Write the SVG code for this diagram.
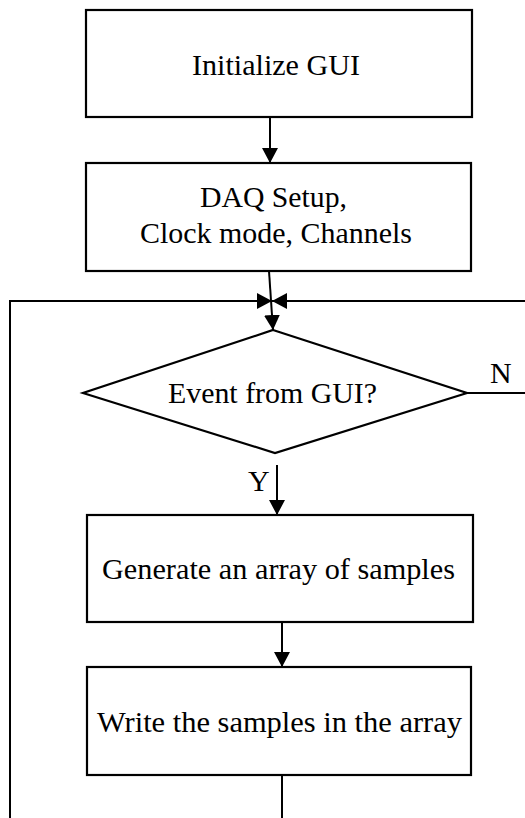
<svg xmlns="http://www.w3.org/2000/svg" width="525" height="818" viewBox="0 0 525 818">
  <style>
    .box { fill: #fff; stroke: #000; stroke-width: 2.2; }
    .wire { fill: none; stroke: #000; stroke-width: 2; }
    .label { font-family: "Liberation Serif", "Times New Roman", serif; font-size: 30px; fill: #000; }
  </style>
  <defs>
    <marker id="head" viewBox="0 0 15 16" refX="15" refY="8" markerWidth="15" markerHeight="16" markerUnits="userSpaceOnUse" orient="auto">
      <path d="M0,0 L15,8 L0,16 Z" fill="#000"/>
    </marker>
  </defs>

  <rect width="525" height="818" fill="#fff"/>

  <!-- connectors -->
  <g id="connectors">
    <path class="wire" d="M270,117 V163" marker-end="url(#head)"/>
    <path class="wire" d="M269,271 L273,330" marker-end="url(#head)"/>
    <path class="wire" d="M10,818 V301 H272" marker-end="url(#head)"/>
    <path class="wire" d="M525,301 H272" marker-end="url(#head)"/>
    <path class="wire" d="M467,393 H525"/>
    <path class="wire" d="M277,465 V515" marker-end="url(#head)"/>
    <path class="wire" d="M282,622 V667" marker-end="url(#head)"/>
    <path class="wire" d="M282,775 V818"/>
  </g>

  <g id="init">
    <rect class="box" x="86" y="10" width="386" height="107"/>
    <text class="label" x="192" y="75" textLength="168" lengthAdjust="spacingAndGlyphs">Initialize GUI</text>
  </g>

  <g id="daq-setup">
    <rect class="box" x="86" y="163" width="385" height="108"/>
    <text class="label" x="200" y="207" textLength="147" lengthAdjust="spacingAndGlyphs">DAQ Setup,</text>
    <text class="label" x="140" y="243" textLength="272" lengthAdjust="spacingAndGlyphs">Clock mode, Channels</text>
  </g>

  <g id="event-check">
    <polygon class="box" points="273,330 467,393 275,453 83,393" stroke-width="2.6"/>
    <text class="label" x="168" y="403" textLength="209" lengthAdjust="spacingAndGlyphs">Event from GUI?</text>
    <text class="label" x="490" y="383">N</text>
    <text class="label" x="248" y="491">Y</text>
  </g>

  <g id="generate">
    <rect class="box" x="87" y="515" width="386" height="107"/>
    <text class="label" x="102" y="579" textLength="353" lengthAdjust="spacingAndGlyphs">Generate an array of samples</text>
  </g>

  <g id="write">
    <rect class="box" x="87" y="667" width="384" height="108"/>
    <text class="label" x="97" y="732" textLength="365" lengthAdjust="spacingAndGlyphs">Write the samples in the array</text>
  </g>
</svg>
